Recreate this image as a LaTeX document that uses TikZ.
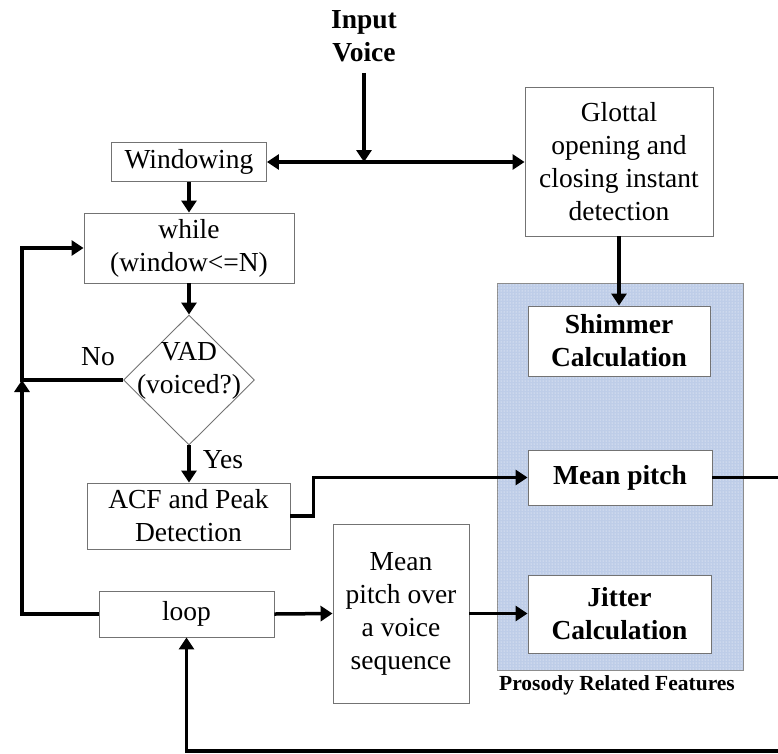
\documentclass[tikz,border=0pt]{standalone}
\usepackage{fontspec}
\setmainfont{Liberation Serif}
\usetikzlibrary{arrows.meta,shapes.geometric,patterns}

\begin{document}
\begin{tikzpicture}[x=1pt,y=-1pt,>={Triangle[width=15pt,length=12pt]},
                    line width=3.5pt,font=\fontsize{27.5}{33}\selectfont]
  \tikzstyle{block}=[draw=black!55,line width=0.9pt,fill=white,align=center,inner sep=2pt]
  \tikzstyle{feat}=[block,font=\fontsize{27.5}{33}\selectfont\bfseries]
  \tikzstyle{flow}=[->,line width=3.5pt]
  \useasboundingbox (0,0) rectangle (778,753);

  % prosody region
  \draw[draw=black!45,line width=0.9pt,fill={rgb,255:red,190;green,205;blue,232},
        postaction={pattern=dots,pattern color=white}] (497,283) rectangle (743,670);
  \node[font=\fontsize{21.5}{26}\selectfont\bfseries] (pros) at (617,685) {Prosody Related Features};

  \node[font=\fontsize{27.5}{33}\selectfont\bfseries,align=center] (in) at (364,36) {Input\\Voice};
  \node[block,minimum width=155,minimum height=39] (win)   at (189,162)   {Windowing};
  \node[block,minimum width=188,minimum height=149] (glot) at (619,161.5) {Glottal\\opening and\\closing instant\\detection};
  \node[block,minimum width=210,minimum height=70] (while) at (189,248)   {while\\(window<=N)};
  \node[draw=black!55,line width=0.9pt,shape=diamond,minimum width=131,minimum height=130,inner sep=0,
        label={[align=center,yshift=9pt]center:VAD\\(voiced?)}] (vad) at (189,380) {};
  \node[block,minimum width=203,minimum height=66] (acf)   at (188.5,516) {ACF and Peak\\Detection};
  \node[block,minimum width=175,minimum height=46] (loop)  at (186.5,614) {loop};
  \node[block,minimum width=136,minimum height=179] (seq)  at (401,613.5) {Mean\\pitch over\\a voice\\sequence};
  \node[feat,minimum width=182,minimum height=70] (shim)   at (619,341)   {Shimmer\\Calculation};
  \node[feat,minimum width=184,minimum height=55] (mp)     at (620,477.5) {Mean pitch};
  \node[feat,minimum width=183,minimum height=78] (jit)    at (619.5,614) {Jitter\\Calculation};

  \node (no)  at (98,357) {No};
  \node (yes) at (223,460) {Yes};

  \coordinate (lb) at (22,614);
  \coordinate (lm) at (22,380);
  \coordinate (lt) at (22,248);
  \coordinate (rx) at (780,477.5);
  \coordinate (rb) at (780,751);

  \draw[flow,shorten <=6pt] (in.south) -- (in.south |- win.east);
  \draw[<->,line width=3.5pt] (win.east) -- (win.east -| glot.west);
  \draw[flow] (win.south) -- (win.south |- while.north);
  \draw[flow] (while.south) -- (while.south |- vad.north);
  \draw[flow] (vad.south) -- (vad.south |- acf.north);
  \draw[flow] (glot.south) -- (glot.south |- shim.north);
  \draw[flow] (acf.east) -- ++(23,0) |- (mp.west);
  \draw (mp.east) -- (rx);
  \draw[flow] (loop.east) -- (seq.west);
  \draw[flow] (seq.east) -- (seq.east -| jit.west);
  \draw[flow] (loop.west) -- (lb) -- (lm);
  \draw[flow] (vad.west) -- (lm) -- (lt) -- (while.west);
  \draw[flow] (rb) -| (loop.south);
\end{tikzpicture}
\end{document}
